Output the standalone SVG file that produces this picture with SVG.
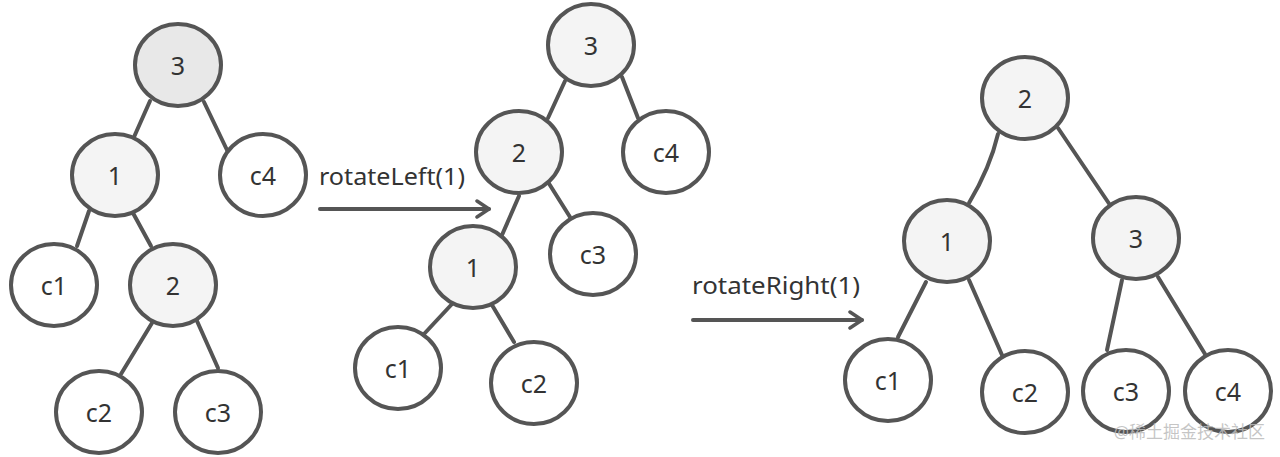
<svg xmlns="http://www.w3.org/2000/svg" width="1280" height="457" viewBox="0 0 1280 457">
<style>
.n{stroke:#555;stroke-width:4;fill:#fff}
.i{fill:#f4f4f4}
.r{fill:#e8e8e8}
.t{font-family:"Noto Sans","Open Sans",sans-serif;font-size:25px;fill:#333;text-anchor:middle;dominant-baseline:central}
.e{stroke:#555;stroke-width:4;fill:none;stroke-linecap:round}
.l{font-family:"Noto Sans","Open Sans",sans-serif;font-size:23px;fill:#333}
</style>
<defs>
<marker id="ah" viewBox="0 0 20 20" refX="17" refY="10" markerWidth="20" markerHeight="20" markerUnits="userSpaceOnUse" orient="auto">
<path d="M5 2 L17 10 L5 18" fill="none" stroke="#555" stroke-width="3.5" stroke-linecap="round" stroke-linejoin="round"/>
</marker>
</defs>
<rect width="1280" height="457" fill="#fff"/>
<g id="connectors">
<line class="e" x1="150" y1="101" x2="134" y2="137"/>
<line class="e" x1="204" y1="102" x2="227" y2="150"/>
<line class="e" x1="89" y1="211" x2="77" y2="246"/>
<line class="e" x1="133" y1="213" x2="151" y2="246"/>
<line class="e" x1="152" y1="323" x2="121" y2="374"/>
<line class="e" x1="197" y1="321" x2="218" y2="368"/>
<line class="e" x1="565" y1="81" x2="548" y2="118"/>
<line class="e" x1="622" y1="77" x2="638" y2="118"/>
<line class="e" x1="519" y1="196" x2="502" y2="235"/>
<line class="e" x1="548" y1="182" x2="570" y2="217"/>
<line class="e" x1="452" y1="304" x2="424" y2="334"/>
<line class="e" x1="492" y1="305" x2="514" y2="342"/>
<path class="e" d="M998 134 Q990 168 969 203"/>
<line class="e" x1="1058" y1="128" x2="1110" y2="205"/>
<line class="e" x1="926" y1="282" x2="898" y2="337"/>
<line class="e" x1="969" y1="280" x2="1002" y2="355"/>
<line class="e" x1="1122" y1="280" x2="1107" y2="350"/>
<line class="e" x1="1158" y1="277" x2="1205" y2="354"/>
<line class="e" x1="320" y1="209" x2="489" y2="209" marker-end="url(#ah)"/>
<line class="e" x1="693" y1="320" x2="862" y2="320" marker-end="url(#ah)"/>
</g>
<g id="labels">
<text class="l" x="319" y="185" textLength="146" lengthAdjust="spacingAndGlyphs">rotateLeft(1)</text>
<text class="l" x="692" y="294" textLength="168" lengthAdjust="spacingAndGlyphs">rotateRight(1)</text>
</g>
<g id="t1-3"><ellipse class="n r" cx="178" cy="65" rx="43" ry="41"/><text class="t" x="178" y="65">3</text></g>
<g id="t1-1"><ellipse class="n i" cx="115" cy="175" rx="43" ry="41"/><text class="t" x="115" y="175">1</text></g>
<g id="t1-c4"><ellipse class="n" cx="263" cy="175" rx="43" ry="41"/><text class="t" x="263" y="175">c4</text></g>
<g id="t1-c1"><ellipse class="n" cx="54" cy="285" rx="43" ry="41"/><text class="t" x="54" y="285">c1</text></g>
<g id="t1-2"><ellipse class="n i" cx="173" cy="285" rx="43" ry="41"/><text class="t" x="173" y="285">2</text></g>
<g id="t1-c2"><ellipse class="n" cx="99" cy="412" rx="43" ry="41"/><text class="t" x="99" y="412">c2</text></g>
<g id="t1-c3"><ellipse class="n" cx="218" cy="412" rx="43" ry="41"/><text class="t" x="218" y="412">c3</text></g>
<g id="t2-3"><ellipse class="n i" cx="591" cy="45" rx="43" ry="41"/><text class="t" x="591" y="45">3</text></g>
<g id="t2-2"><ellipse class="n i" cx="519" cy="152" rx="43" ry="41"/><text class="t" x="519" y="152">2</text></g>
<g id="t2-c4"><ellipse class="n" cx="666" cy="152" rx="43" ry="41"/><text class="t" x="666" y="152">c4</text></g>
<g id="t2-c3"><ellipse class="n" cx="593" cy="254" rx="43" ry="41"/><text class="t" x="593" y="254">c3</text></g>
<g id="t2-1"><ellipse class="n i" cx="473" cy="267" rx="43" ry="41"/><text class="t" x="473" y="267">1</text></g>
<g id="t2-c1"><ellipse class="n" cx="398" cy="368" rx="43" ry="41"/><text class="t" x="398" y="368">c1</text></g>
<g id="t2-c2"><ellipse class="n" cx="534" cy="383" rx="43" ry="41"/><text class="t" x="534" y="383">c2</text></g>
<g id="t3-2"><ellipse class="n i" cx="1025" cy="98" rx="43" ry="41"/><text class="t" x="1025" y="98">2</text></g>
<g id="t3-1"><ellipse class="n i" cx="947" cy="241" rx="43" ry="41"/><text class="t" x="947" y="241">1</text></g>
<g id="t3-3"><ellipse class="n i" cx="1136" cy="238" rx="43" ry="41"/><text class="t" x="1136" y="238">3</text></g>
<g id="t3-c1"><ellipse class="n" cx="888" cy="380" rx="43" ry="41"/><text class="t" x="888" y="380">c1</text></g>
<g id="t3-c2"><ellipse class="n" cx="1025" cy="392" rx="43" ry="41"/><text class="t" x="1025" y="392">c2</text></g>
<g id="t3-c3"><ellipse class="n" cx="1126" cy="391" rx="43" ry="41"/><text class="t" x="1126" y="391">c3</text></g>
<g id="t3-c4"><ellipse class="n" cx="1228" cy="391" rx="43" ry="41"/><text class="t" x="1228" y="391">c4</text></g>
<text x="1265" y="438" text-anchor="end" font-family="'Noto Sans','Noto Sans CJK SC',sans-serif" font-size="17" fill="#bbb" fill-opacity="0.85">@稀土掘金技术社区</text>
</svg>
